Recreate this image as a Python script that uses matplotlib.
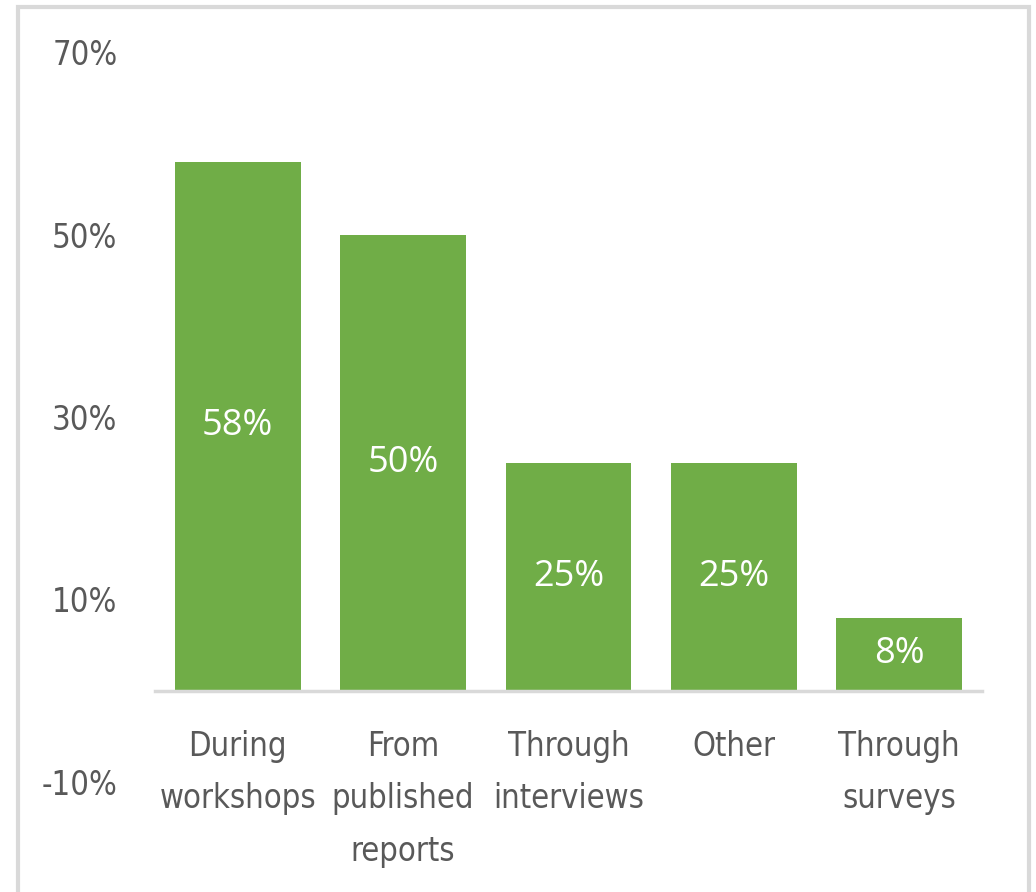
import matplotlib
matplotlib.use("Agg")
import matplotlib.pyplot as plt
from matplotlib.patches import Rectangle
from matplotlib import font_manager as fm
import numpy as np

categories = ["During\nworkshops", "From\npublished\nreports", "Through\ninterviews", "Other", "Through\nsurveys"]
values = [58, 50, 25, 25, 8]
yticks = [-10, 10, 30, 50, 70]

green = "#70AD47"
grey_txt = "#595959"


# look for a narrow / condensed face, the reference uses one
def pick_narrow():
    best = None
    for f in fm.fontManager.ttflist:
        name = f.name.lower()
        fname = f.fname.lower()
        narrow = ("narrow" in name or "condensed" in name or "narrow" in fname
                  or "condensed" in fname or str(f.stretch) in ("condensed", "semi-condensed"))
        if not narrow or "mono" in name or "serif" in name and "sans" not in name:
            continue
        if f.style != "normal":
            continue
        w = f.weight if isinstance(f.weight, int) else 400
        score = abs(w - 350)
        if best is None or score < best[0]:
            best = (score, f.fname)
    return best[1] if best else None


nf = pick_narrow()
if nf:
    tick_fp = fm.FontProperties(fname=nf, size=23.5)
else:
    tick_fp = fm.FontProperties(family="Liberation Sans", size=21)

fig = plt.figure(figsize=(10.36, 8.92), dpi=100)
W, H = 1036, 892
ax = fig.add_axes([155 / W, (H - 782) / H, 827 / W, 730 / H])

for s in ["top", "right", "left"]:
    ax.spines[s].set_visible(False)
ax.spines["bottom"].set_position(("data", 0))
ax.spines["bottom"].set_color("#D9D9D9")
ax.spines["bottom"].set_linewidth(2.5)
ax.spines["bottom"].set_zorder(3)

x = np.arange(len(categories))
bars = ax.bar(x, values, width=0.76, color=green, zorder=2)

for b, v in zip(bars, values):
    ax.text(b.get_x() + b.get_width() / 2, v / 2, f"{v}%", color="white",
            ha="center", va="center", fontsize=26, family="Open Sans")

ax.set_xlim(-0.5, 4.5)
ax.set_ylim(-10, 70)
ax.set_yticks(yticks)
ax.set_yticklabels([f"{t}%" for t in yticks], fontproperties=tick_fp, color=grey_txt)
ax.set_xticks(x)
ax.set_xticklabels(categories, fontproperties=tick_fp, color=grey_txt,
                   linespacing=1.75, va="top")
ax.tick_params(axis="both", length=0)
ax.tick_params(axis="y", pad=27)
ax.tick_params(axis="x", pad=28)

# outer frame
fig.patches.append(Rectangle((18 / W, -0.05), 1011 / W, 1.05 - 7 / H,
                             transform=fig.transFigure, fill=False,
                             edgecolor="#D9D9D9", linewidth=3))

fig.savefig("out.png", dpi=100)
